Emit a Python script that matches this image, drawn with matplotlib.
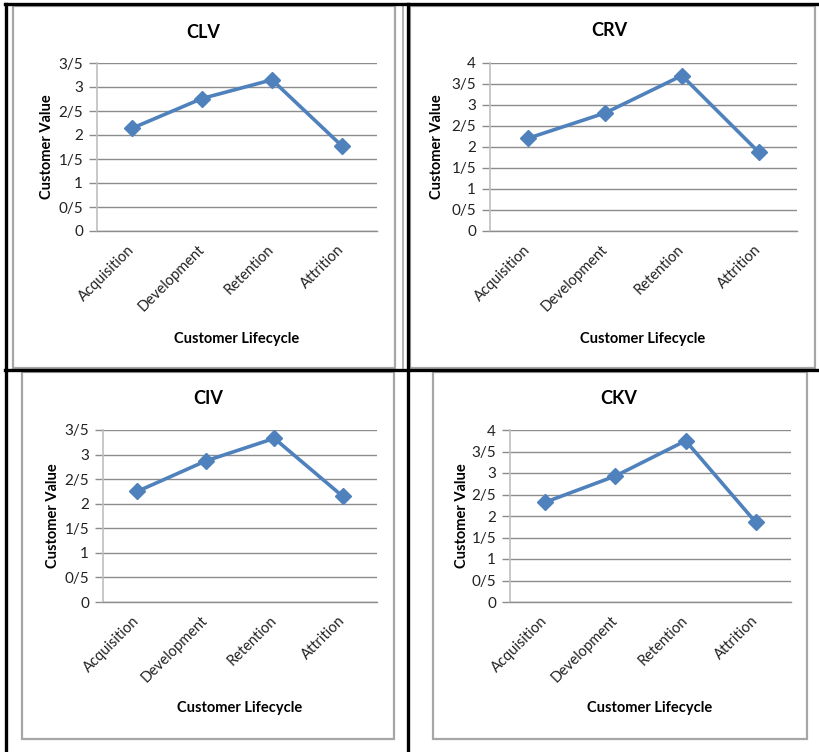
import matplotlib
matplotlib.use('Agg')
from matplotlib import pyplot as plt
from matplotlib.lines import Line2D
from matplotlib.patches import Rectangle

# data
stages = ['Acquisition', 'Development', 'Retention', 'Attrition']
clv = [2.14, 2.76, 3.15, 1.77]
crv = [2.21, 2.81, 3.70, 1.88]
civ = [2.25, 2.87, 3.33, 2.15]
ckv = [2.32, 2.93, 3.75, 1.85]

ticks_35 = [0, 0.5, 1, 1.5, 2, 2.5, 3, 3.5]
labels_35 = ['0', '0/5', '1', '1/5', '2', '2/5', '3', '3/5']
ticks_4 = ticks_35 + [4]
labels_4 = labels_35 + ['4']

W, H = 820, 752
plt.rcParams['font.family'] = ['Lato', 'DejaVu Sans']
fig = plt.figure(figsize=(W / 100, H / 100), dpi=100)

line_col = '#4F81BD'
grid_col = '#8C8C8C'
frame_col = '#A6A6A6'


def fx(x):
    return x / W


def fy(y):
    return 1 - y / H


def hline(x0, x1, y, color, lw):
    fig.add_artist(Line2D([fx(x0), fx(x1)], [fy(y), fy(y)], color=color, lw=lw,
                          transform=fig.transFigure))


def vline(x, y0, y1, color, lw):
    fig.add_artist(Line2D([fx(x), fx(x)], [fy(y0), fy(y1)], color=color, lw=lw,
                          transform=fig.transFigure))


def box(x0, y0, x1, y1):
    fig.add_artist(Rectangle((fx(x0), fy(y1)), fx(x1) - fx(x0), fy(y0) - fy(y1),
                             fill=False, edgecolor=frame_col, lw=1.6,
                             transform=fig.transFigure))


# gray chart frames
box(13, 6, 395, 368)
vline(403, 6, 368, frame_col, 1.2)
box(410, 6, 815, 368)
box(22, 372, 394, 739)
box(433, 372, 807, 739)

# black table borders
hline(5, 820, 4, 'black', 2.4)
hline(5, 820, 370, 'black', 2.4)
vline(6, 4, 752, 'black', 2.4)
vline(408, 4, 752, 'black', 2.4)


def panel(vals, title, ticks, labels, ax_box, title_xy, xlab_xy, ylab_xy):
    x0, y0, x1, y1 = ax_box
    ax = fig.add_axes([fx(x0), fy(y1), fx(x1) - fx(x0), fy(y0) - fy(y1)])
    ax.plot(range(len(stages)), vals, color=line_col, lw=2.6, marker='D',
            markersize=8, zorder=3)
    ax.set_xlim(-0.5, len(stages) - 0.5)
    ax.set_ylim(0, ticks[-1])
    ax.set_yticks(ticks)
    ax.set_yticklabels(labels, fontsize=11, color='#222222')
    ax.set_xticks(range(len(stages)))
    ax.set_xticklabels(stages, rotation=45, ha='right', va='center',
                       rotation_mode='anchor', fontsize=10.5, color='#222222')
    ax.tick_params(axis='x', length=0, pad=12)
    ax.tick_params(axis='y', length=6, width=1, color=grid_col, pad=4)
    ax.grid(axis='y', color=grid_col, lw=1)
    ax.set_axisbelow(True)
    for s in ['top', 'right']:
        ax.spines[s].set_visible(False)
    ax.spines['left'].set_color('#BFBFBF')
    ax.spines['bottom'].set_color(grid_col)
    ax.spines['left'].set_linewidth(1.2)
    ax.spines['bottom'].set_linewidth(1)
    fig.text(fx(title_xy[0]), fy(title_xy[1]), title, ha='center', va='center',
             fontsize=13, fontweight='bold')
    fig.text(fx(xlab_xy[0]), fy(xlab_xy[1]), 'Customer Lifecycle', ha='center',
             va='center', fontsize=10.5, fontweight='bold')
    fig.text(fx(ylab_xy[0]), fy(ylab_xy[1]), 'Customer Value', ha='center',
             va='center', rotation=90, fontsize=10.5, fontweight='bold')


panel(clv, 'CLV', ticks_35, labels_35, (97, 63, 377, 231), (203, 32), (237, 339), (47, 147))
panel(crv, 'CRV', ticks_4, labels_4, (490, 63, 797, 231), (609, 31), (643, 339), (437, 147))
panel(civ, 'CIV', ticks_35, labels_35, (103, 430, 377, 602), (208, 398), (240, 708), (53, 516))
panel(ckv, 'CKV', ticks_4, labels_4, (510, 430, 791, 602), (619, 398), (650, 708), (462, 516))

fig.savefig('out.png', dpi=100, facecolor='white')
